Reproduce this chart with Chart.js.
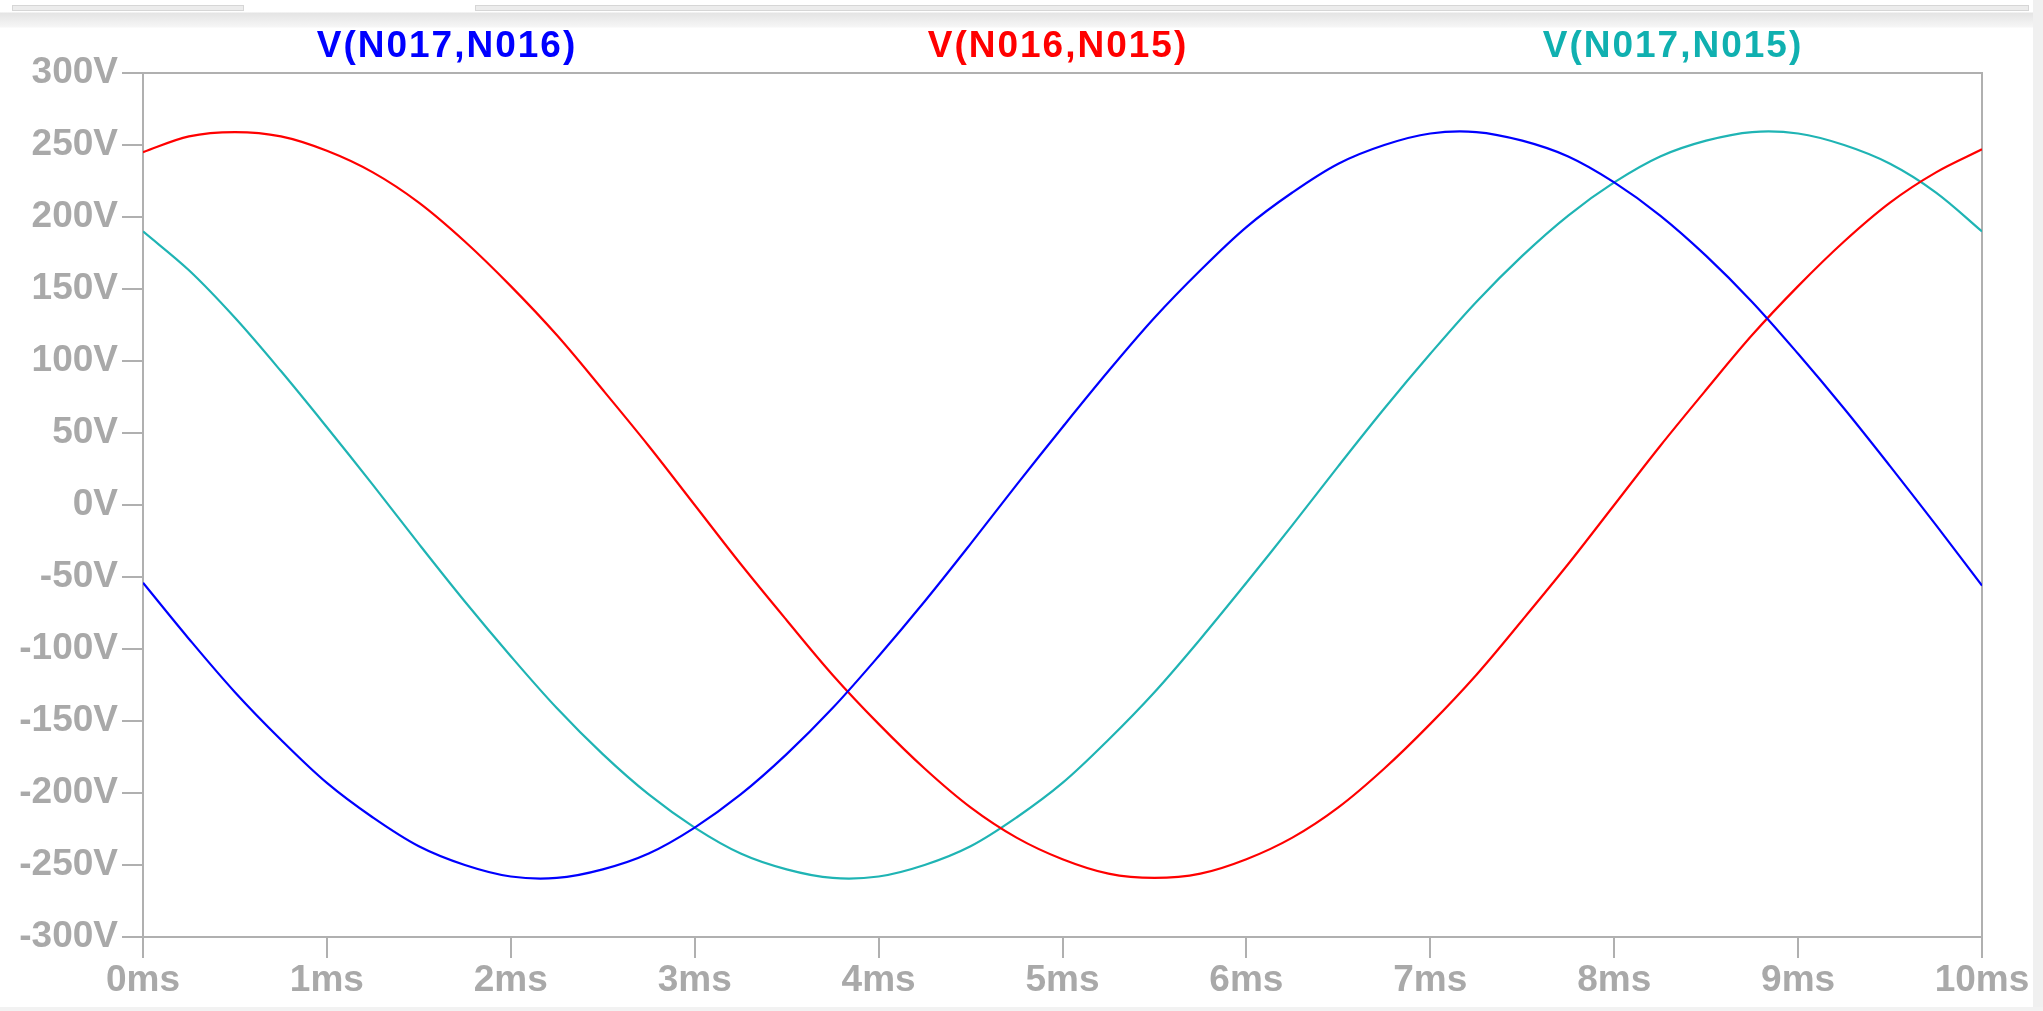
<!DOCTYPE html>
<html>
<head>
<meta charset="utf-8">
<script src="https://cdn.jsdelivr.net/npm/chart.js@4.4.0/dist/chart.umd.min.js"></script>
<style>
    html, body {
        margin: 0;
        padding: 0;
        background: #fff;
        overflow: hidden;
    }
    .wrap {
        position: relative;
        width: 2043px;
        height: 1011px;
    }
    #plot {
        position: absolute;
        left: 0;
        top: 0;
    }
    .trace-title {
        position: absolute;
        top: 24px;
        transform: translateX(-50%);
        font-family: "Liberation Sans", Arial, sans-serif;
        font-weight: bold;
        font-size: 37px;
        letter-spacing: 2px;
        white-space: nowrap;
    }
    .chrome-top {
        position: absolute;
        left: 0;
        top: 0;
        width: 2043px;
        height: 28px;
        background: linear-gradient(#ffffff 0px, #ffffff 12px, #e4e4e4 13px, #f6f6f6 27px, #ffffff 28px);
    }
    .chrome-bar {
        position: absolute;
        top: 5px;
        height: 4px;
        background: #ececec;
        border: 1px solid #d6d6d6;
    }
    .chrome-right {
        position: absolute;
        left: 2033px;
        top: 0;
        width: 10px;
        height: 1011px;
        background: #f0f0f0;
    }
    .chrome-bottom {
        position: absolute;
        left: 0;
        top: 1007px;
        width: 2043px;
        height: 4px;
        background: #f2f2f2;
    }
</style>
</head>
<body>
<div class="wrap">
    <div class="chrome-top"></div>
    <div class="chrome-bar" style="left:12px;width:230px"></div>
    <div class="chrome-bar" style="left:475px;width:1552px"></div>
    <div class="chrome-right"></div>
    <div class="chrome-bottom"></div>
    <canvas id="plot" width="2043" height="1011"></canvas>
    <div id="titles"></div>
</div>
<script>
// time axis (ms)
const timeMs = [0, 0.25, 0.5, 0.75, 1, 1.25, 1.5, 1.75, 2, 2.25, 2.5, 2.75, 3, 3.25, 3.5, 3.75, 4,
    4.25, 4.5, 4.75, 5, 5.25, 5.5, 5.75, 6, 6.25, 6.5, 6.75, 7, 7.25, 7.5, 7.75, 8,
    8.25, 8.5, 8.75, 9, 9.25, 9.5, 9.75, 10];

// V(N017,N016)
const vN017N016 = [-54, -93, -130, -163, -193, -217, -237, -250, -258, -259, -253, -242, -224, -201,
    -173, -141, -105, -67, -27, 14, 54, 93, 130, 163, 193, 217, 237, 250, 258, 259, 253, 242, 224,
    201, 173, 141, 105, 67, 27, -14, -56];

// V(N016,N015)
const vN016N015 = [245, 256, 259, 256, 246, 231, 210, 183, 152, 118, 80, 41, 0, -41, -80, -118,
    -152, -183, -210, -231, -246, -256, -259, -256, -246, -231, -210, -183, -152, -118, -80, -41,
    0, 41, 80, 118, 152, 183, 210, 231, 247];

// V(N017,N015)
const vN017N015 = [190, 163, 130, 93, 54, 14, -27, -67, -105, -141, -173, -201, -224, -242, -253,
    -259, -258, -250, -237, -217, -193, -163, -130, -93, -54, -14, 27, 67, 105, 141, 173, 201, 224,
    242, 253, 259, 258, 250, 237, 217, 190];

const traceNames = ['V(N017,N016)', 'V(N016,N015)', 'V(N017,N015)'];
const traceColors = ['#0000ff', '#ff0000', '#1fb4b4'];
const titleColors = ['#0000ff', '#ff0000', '#10b0b0'];
const titleCenters = [447, 1058, 1673];

const xTicks = [0, 1, 2, 3, 4, 5, 6, 7, 8, 9, 10];
const yTicks = [-300, -250, -200, -150, -100, -50, 0, 50, 100, 150, 200, 250, 300];

const axisGray = '#b0b0b0';
const labelGray = '#a9a9a9';
const tickFont = { family: '"Liberation Sans", Arial, sans-serif', size: 37, weight: 'bold', lineHeight: 1 };

// trace titles across the top
const titles = document.getElementById('titles');
traceNames.forEach((name, i) => {
    const el = document.createElement('div');
    el.className = 'trace-title';
    el.style.left = titleCenters[i] + 'px';
    el.style.color = titleColors[i];
    el.textContent = name;
    titles.appendChild(el);
});

function toPoints(values) {
    return values.map((v, i) => ({ x: timeMs[i], y: v }));
}

// frame around the plot area (LTspice style box)
const frameBox = {
    id: 'frameBox',
    beforeDatasetsDraw(chart) {
        const a = chart.chartArea;
        const ctx = chart.ctx;
        ctx.save();
        ctx.strokeStyle = axisGray;
        ctx.lineWidth = 2;
        ctx.strokeRect(a.left, a.top, a.right - a.left, a.bottom - a.top);
        ctx.restore();
    }
};

const seriesValues = [vN017N016, vN016N015, vN017N015];

new Chart(document.getElementById('plot').getContext('2d'), {
    type: 'line',
    data: {
        datasets: seriesValues.map((vals, i) => ({
            label: traceNames[i],
            data: toPoints(vals),
            borderColor: traceColors[i],
            backgroundColor: traceColors[i],
            borderWidth: 2.2,
            pointRadius: 0,
            fill: false,
            tension: 0.35
        }))
    },
    options: {
        responsive: false,
        animation: false,
        layout: { padding: { top: 73, right: 61, bottom: 0, left: 0 } },
        plugins: {
            legend: { display: false },
            tooltip: { enabled: false }
        },
        scales: {
            x: {
                type: 'linear',
                min: 0,
                max: 10,
                afterFit: (scale) => { scale.height = 74; },
                afterBuildTicks: (scale) => { scale.ticks = xTicks.map(v => ({ value: v })); },
                ticks: {
                    color: labelGray,
                    font: tickFont,
                    padding: 4,
                    maxRotation: 0,
                    callback: (v) => v + 'ms'
                },
                grid: {
                    drawOnChartArea: false,
                    drawTicks: true,
                    tickLength: 21,
                    color: axisGray,
                    lineWidth: 2
                },
                border: { color: axisGray, width: 2 }
            },
            y: {
                type: 'linear',
                min: -300,
                max: 300,
                afterFit: (scale) => { scale.width = 143; },
                afterBuildTicks: (scale) => { scale.ticks = yTicks.map(v => ({ value: v })); },
                ticks: {
                    color: labelGray,
                    font: tickFont,
                    padding: 4,
                    callback: (v) => v + 'V'
                },
                grid: {
                    drawOnChartArea: false,
                    drawTicks: true,
                    tickLength: 21,
                    color: axisGray,
                    lineWidth: 2
                },
                border: { color: axisGray, width: 2 }
            }
        }
    },
    plugins: [frameBox]
});
</script>
</body>
</html>
